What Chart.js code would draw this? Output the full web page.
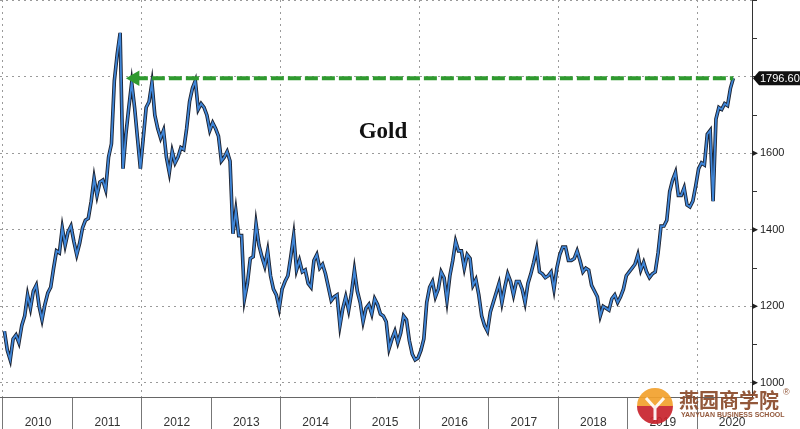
<!DOCTYPE html>
<html>
<head>
<meta charset="utf-8">
<script src="https://cdn.jsdelivr.net/npm/chart.js@4.4.1/dist/chart.umd.min.js"></script>
<style>
  html, body { margin: 0; padding: 0; background: #fff; }
  #wrap { width: 800px; height: 429px; }
</style>
</head>
<body>
<div id="wrap"><canvas id="gold" width="800" height="429"></canvas></div>
<script>
// semi-monthly gold price readings (USD/oz), 24 per year
const gold2010 = [1135, 1085, 1060, 1115, 1125, 1105, 1150, 1175, 1230, 1195, 1240, 1255,
                  1200, 1165, 1205, 1235, 1250, 1300, 1345, 1340, 1405, 1360, 1395, 1410]
const gold2011 = [1370, 1335, 1365, 1405, 1425, 1430, 1475, 1535, 1490, 1525, 1530, 1505,
                  1590, 1625, 1790, 1860, 1915, 1560, 1650, 1720, 1785, 1720, 1640, 1560]
const gold2012 = [1640, 1720, 1735, 1785, 1700, 1665, 1640, 1660, 1590, 1550, 1605, 1575,
                  1590, 1615, 1610, 1665, 1735, 1770, 1790, 1715, 1730, 1720, 1700, 1660]
const gold2013 = [1680, 1665, 1645, 1580, 1590, 1605, 1580, 1390, 1450, 1385, 1385, 1220,
                  1260, 1325, 1330, 1415, 1360, 1330, 1305, 1345, 1280, 1245, 1230, 1195]
const gold2014 = [1245, 1265, 1280, 1330, 1385, 1295, 1320, 1290, 1295, 1260, 1250, 1320,
                  1335, 1300, 1310, 1285, 1250, 1215, 1225, 1230, 1150, 1195, 1225, 1190]
const gold2015 = [1235, 1295, 1240, 1210, 1160, 1195, 1205, 1180, 1220, 1205, 1180, 1175,
                  1160, 1090, 1115, 1135, 1105, 1130, 1175, 1165, 1110, 1075, 1060, 1065]
const gold2016 = [1085, 1115, 1210, 1250, 1265, 1225, 1245, 1290, 1275, 1215, 1280, 1320,
                  1370, 1345, 1345, 1300, 1335, 1325, 1255, 1270, 1230, 1175, 1150, 1135]
const gold2017 = [1185, 1210, 1235, 1260, 1210, 1250, 1285, 1265, 1230, 1265, 1265, 1245,
                  1210, 1260, 1285, 1315, 1350, 1290, 1285, 1275, 1280, 1290, 1245, 1300]
const gold2018 = [1335, 1355, 1355, 1320, 1320, 1325, 1345, 1320, 1290, 1300, 1295, 1255,
                  1240, 1225, 1175, 1200, 1195, 1190, 1220, 1230, 1210, 1225, 1245, 1280]
const gold2019 = [1290, 1300, 1310, 1335, 1295, 1315, 1290, 1275, 1285, 1290, 1340, 1410,
                  1410, 1425, 1500, 1530, 1550, 1490, 1490, 1510, 1465, 1460, 1475, 1515]
const gold2020 = [1560, 1575, 1570, 1650, 1660, 1475, 1690, 1720, 1715, 1730, 1725, 1770, 1796.6]

const years = [2010, 2011, 2012, 2013, 2014, 2015, 2016, 2017, 2018, 2019, 2020]
const seriesByYear = [gold2010, gold2011, gold2012, gold2013, gold2014, gold2015,
                      gold2016, gold2017, gold2018, gold2019, gold2020]
const yTicks = [1000, 1100, 1200, 1300, 1400, 1500, 1600, 1700, 1800, 1900, 2000]
const yLabels = [1000, 1200, 1400, 1600]
const lastPrice = 1796.6
const arrowFrom = 2011.9
const chartTitle = 'Gold'

const points = []
seriesByYear.forEach((vals, k) => {
    vals.forEach((v, i) => points.push({ x: years[k] + (i + 0.5) / 24, y: v }))
})
const lastX = points[points.length - 1].x

// the axes should not push the plot inwards
const noPadding = s => {
    s.paddingTop = 0
    s.paddingBottom = 0
    s.paddingLeft = 0
    s.paddingRight = 0
}

const extras = {
    id: 'extras',
    afterDraw(chart) {
        const ctx = chart.ctx
        const ys = chart.scales.y
        const area = chart.chartArea

        // major tick markers on the price axis
        ctx.save()
        ctx.fillStyle = '#222'
        yLabels.forEach(v => {
            const py = ys.getPixelForValue(v)
            ctx.beginPath()
            ctx.moveTo(area.right, py - 3)
            ctx.lineTo(area.right + 6, py)
            ctx.lineTo(area.right, py + 3)
            ctx.closePath()
            ctx.fill()
        })

        // last price tag
        const ly = ys.getPixelForValue(lastPrice)
        ctx.fillStyle = '#111'
        ctx.beginPath()
        ctx.moveTo(area.right + 1, ly)
        ctx.lineTo(area.right + 7, ly - 7)
        ctx.lineTo(800, ly - 7)
        ctx.lineTo(800, ly + 7)
        ctx.lineTo(area.right + 7, ly + 7)
        ctx.closePath()
        ctx.fill()
        ctx.fillStyle = '#fff'
        ctx.font = '11px "Liberation Sans", Arial, sans-serif'
        ctx.textBaseline = 'middle'
        ctx.textAlign = 'left'
        ctx.fillText(lastPrice.toFixed(2), area.right + 8, ly + 1)

        // title
        ctx.fillStyle = '#111'
        ctx.font = 'bold 23px "Liberation Serif", "DejaVu Serif", serif'
        ctx.textAlign = 'center'
        ctx.textBaseline = 'alphabetic'
        ctx.fillText(chartTitle, 383, 138)

        // watermark
        ctx.globalAlpha = 0.92
        const cx = 655, cy = 406, r = 18
        ctx.fillStyle = '#f2a12c'
        ctx.beginPath(); ctx.arc(cx, cy, r, Math.PI, 0); ctx.fill()
        ctx.fillStyle = '#c8232c'
        ctx.beginPath(); ctx.arc(cx, cy, r, 0, Math.PI); ctx.fill()
        ctx.strokeStyle = '#fff'
        ctx.lineWidth = 3
        ctx.beginPath()
        ctx.moveTo(cx - 9, cy - 8); ctx.lineTo(cx, cy + 2); ctx.lineTo(cx + 9, cy - 8)
        ctx.moveTo(cx, cy + 2); ctx.lineTo(cx, cy + 14)
        ctx.stroke()
        ctx.fillStyle = '#8a4a2a'
        ctx.textAlign = 'left'
        ctx.font = 'bold 20px "Noto Sans CJK SC", sans-serif'
        ctx.fillText('燕园商学院', 679, 408)
        ctx.font = 'bold 7px "Liberation Sans", Arial, sans-serif'
        ctx.fillText('YANYUAN BUSINESS SCHOOL', 681, 417)
        ctx.font = '9px "Liberation Sans", Arial, sans-serif'
        ctx.fillText('®', 783, 395)
        ctx.restore()
    }
}

new Chart(document.getElementById('gold'), {
    type: 'line',
    data: {
        datasets: [{
            label: 'arrow',
            data: [{ x: arrowFrom, y: lastPrice }, { x: lastX, y: lastPrice }],
            borderColor: '#2f9a2f',
            backgroundColor: '#2f9a2f',
            borderWidth: 4,
            borderDash: [13, 4],
            pointStyle: 'triangle',
            pointRotation: -90,
            pointRadius: [9, 0],
            pointBorderWidth: 0,
            order: 0
        }, {
            label: 'Gold',
            data: points,
            borderColor: '#3f86d8',
            borderWidth: 1.8,
            pointRadius: 0,
            tension: 0,
            order: 1
        }, {
            label: 'Gold shadow',
            data: points,
            borderColor: '#1c2230',
            borderWidth: 3.6,
            pointRadius: 0,
            tension: 0,
            order: 2
        }]
    },
    options: {
        responsive: false,
        animation: false,
        devicePixelRatio: 1,
        layout: { padding: 0, autoPadding: false },
        plugins: { legend: { display: false }, tooltip: { enabled: false } },
        scales: {
            x: {
                type: 'linear',
                min: 2009.957,
                max: 2020.79,
                afterBuildTicks: s => { s.ticks = years.map(v => ({ value: v })) },
                afterFit: s => { s.height = 32; noPadding(s) },
                ticks: {
                    callback: v => String(v),
                    labelOffset: 35,
                    padding: -14,
                    color: '#333',
                    font: { size: 12, family: '"Liberation Sans", Arial, sans-serif' },
                    maxRotation: 0,
                    autoSkip: false
                },
                grid: {
                    color: c => (c.tick && c.tick.value % 2 === 0) ? '#9a9a9a' : 'rgba(0,0,0,0)',
                    borderDash: [2, 4],
                    tickColor: '#777',
                    tickLength: 32,
                    tickBorderDash: []
                },
                border: { color: '#666', width: 1, dash: [2, 4] }
            },
            y: {
                position: 'right',
                min: 963,
                max: 2001,
                afterBuildTicks: s => { s.ticks = yTicks.map(v => ({ value: v })) },
                afterFit: s => { s.width = 48; noPadding(s) },
                ticks: {
                    callback: v => yLabels.includes(v) ? String(v) : '',
                    padding: 3,
                    color: '#222',
                    font: { size: 11, family: '"Liberation Sans", Arial, sans-serif' },
                    autoSkip: false
                },
                grid: {
                    color: c => (c.tick && c.tick.value % 200 === 0) ? '#9a9a9a' : 'rgba(0,0,0,0)',
                    borderDash: [2, 4],
                    tickColor: '#333',
                    tickLength: 5,
                    tickBorderDash: []
                },
                border: { color: '#333', width: 1, dash: [2, 4] }
            }
        }
    },
    plugins: [extras]
})
</script>
</body>
</html>
